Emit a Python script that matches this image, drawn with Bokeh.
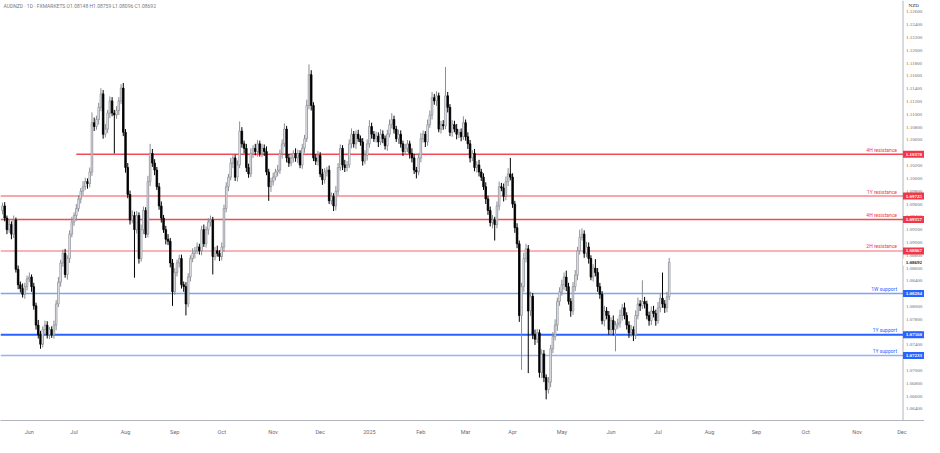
import pandas as pd
from bokeh.plotting import figure
from bokeh.models import ColumnDataSource, FixedTicker, Label, Range1d
from bokeh.embed import file_html
from bokeh.resources import INLINE

# ---------------- data ----------------
first_day = "2024-05-16"
first_open = 1.0950

closes = [
    1.0957, 1.0938, 1.0920, 1.0928, 1.0913, 1.0935, 1.0858, 1.0834, 1.0828, 1.0819,
    1.0831, 1.0843, 1.0846, 1.0831, 1.0801, 1.0771, 1.0756, 1.0741, 1.0764, 1.0771,
    1.0756, 1.0764, 1.0756, 1.0771, 1.0804, 1.0838, 1.0868, 1.0883, 1.0850, 1.0875,
    1.0913, 1.0932, 1.0942, 1.0953, 1.0968, 1.0980, 1.0987, 1.0995, 1.0992, 1.1010,
    1.1087, 1.1081, 1.1092, 1.1111, 1.1132, 1.1069, 1.1077, 1.1102, 1.1121, 1.1102,
    1.1099, 1.1106, 1.1121, 1.1141, 1.1072, 1.1017, 1.0975, 1.0935, 1.0942, 1.0920,
    1.0942, 1.0875, 1.0920, 1.0950, 1.0913, 1.0995, 1.1039, 1.1024, 1.1013, 1.0987,
    1.0957, 1.0938, 1.0920, 1.0905, 1.0902, 1.0868, 1.0823, 1.0853, 1.0868, 1.0875,
    1.0834, 1.0831, 1.0804, 1.0846, 1.0875, 1.0883, 1.0887, 1.0893, 1.0887, 1.0920,
    1.0898, 1.0920, 1.0932, 1.0935, 1.0878, 1.0887, 1.0883, 1.0878, 1.0893, 1.0953,
    1.0987, 1.1002, 1.1024, 1.1032, 1.1002, 1.1021, 1.1074, 1.1054, 1.1047, 1.1017,
    1.1007, 1.1039, 1.1047, 1.1042, 1.1054, 1.1039, 1.1047, 1.1042, 1.1010, 1.0987,
    1.0995, 1.1002, 1.1010, 1.1013, 1.1039, 1.1054, 1.1077, 1.1032, 1.1024, 1.1032,
    1.1039, 1.1032, 1.1039, 1.1021, 1.1047, 1.1062, 1.1114, 1.1162, 1.1114, 1.1032,
    1.1027, 1.1036, 1.1007, 1.0998, 1.1010, 1.1013, 1.0965, 1.0972, 1.0957, 1.0980,
    1.1017, 1.1047, 1.1021, 1.1017, 1.1021, 1.1054, 1.1069, 1.1054, 1.1069, 1.1062,
    1.1057, 1.1027, 1.1036, 1.1054, 1.1081, 1.1069, 1.1062, 1.1066, 1.1057, 1.1069,
    1.1062, 1.1051, 1.1069, 1.1084, 1.1092, 1.1077, 1.1062, 1.1069, 1.1054, 1.1042,
    1.1047, 1.1054, 1.1039, 1.1032, 1.1013, 1.1010, 1.1032, 1.1062, 1.1069, 1.1057,
    1.1084, 1.1099, 1.1126, 1.1121, 1.1129, 1.1077, 1.1084, 1.1082, 1.1129, 1.1111,
    1.1072, 1.1084, 1.1077, 1.1069, 1.1072, 1.1065, 1.1087, 1.1065, 1.1054, 1.1032,
    1.1039, 1.1017, 1.1021, 1.1010, 1.1002, 1.0987, 1.0968, 1.0950, 1.0931, 1.0935,
    1.0928, 1.0957, 1.0987, 1.0985, 1.0972, 1.0995, 1.1007, 1.1002, 1.0960, 1.0923,
    1.0898, 1.0786, 1.0831, 1.0875, 1.0890, 1.0793, 1.0816, 1.0756, 1.0749, 1.0759,
    1.0697, 1.0726, 1.0689, 1.0670, 1.0682, 1.0734, 1.0753, 1.0771, 1.0808, 1.0823,
    1.0834, 1.0846, 1.0831, 1.0808, 1.0793, 1.0831, 1.0849, 1.0887, 1.0908, 1.0913,
    1.0883, 1.0893, 1.0875, 1.0846, 1.0860, 1.0853, 1.0831, 1.0819, 1.0778, 1.0793,
    1.0786, 1.0764, 1.0778, 1.0764, 1.0771, 1.0774, 1.0786, 1.0798, 1.0786, 1.0771,
    1.0759, 1.0764, 1.0756, 1.0786, 1.0804, 1.0801, 1.0808, 1.0804, 1.0786, 1.0778,
    1.0793, 1.0789, 1.0778, 1.0798, 1.0813, 1.0804, 1.0798, 1.0815, 1.0869,
]

upper_wick_pips = [
    5, 6, 4, 8, 5, 7, 4, 6, 5, 8,
    6, 5, 7, 4, 6, 5, 8, 6, 5, 7,
    6, 4, 5, 7, 6, 8, 5, 6, 7, 5,
    6, 8, 5, 7, 6, 5, 9, 6, 5, 7,
    16, 8, 6, 7, 9, 6, 8, 5, 7, 6,
    5, 7, 6, 6, 8, 5, 7, 6, 8, 6,
    7, 5, 8, 6, 5, 9, 15, 7, 6, 5,
    6, 7, 5, 6, 8, 5, 6, 7, 5, 6,
    6, 5, 7, 6, 5, 8, 6, 7, 5, 6,
    8, 5, 6, 7, 5, 6, 8, 5, 7, 6,
    7, 5, 8, 6, 5, 7, 15, 6, 5, 7,
    6, 8, 5, 7, 6, 5, 7, 6, 8, 5,
    6, 7, 5, 8, 6, 7, 9, 5, 6, 7,
    5, 8, 6, 5, 7, 6, 9, 16, 7, 5,
    6, 7, 5, 8, 6, 5, 7, 6, 5, 8,
    7, 6, 5, 8, 6, 7, 9, 5, 6, 7,
    5, 6, 8, 7, 10, 6, 5, 7, 6, 8,
    6, 5, 7, 8, 10, 6, 5, 7, 6, 5,
    7, 6, 5, 8, 6, 5, 7, 9, 6, 5,
    8, 7, 9, 6, 7, 5, 6, 7, 45, 6,
    5, 7, 6, 8, 5, 6, 10, 5, 7, 6,
    5, 7, 6, 8, 5, 6, 7, 5, 6, 8,
    5, 7, 8, 6, 7, 8, 9, 25, 6, 5,
    7, 5, 6, 9, 8, 6, 7, 5, 8, 6,
    5, 7, 6, 5, 8, 6, 7, 9, 6, 7,
    8, 7, 10, 6, 5, 7, 8, 6, 12, 9,
    6, 8, 7, 5, 6, 14, 7, 6, 5, 8,
    6, 7, 5, 8, 6, 7, 9, 6, 8, 5,
    6, 7, 5, 8, 10, 6, 33, 7, 5, 6,
    7, 8, 6, 9, 7, 40, 6, 8, 7,
]

lower_wick_pips = [
    6, 5, 7, 5, 8, 6, 5, 7, 6, 5,
    7, 6, 5, 8, 6, 7, 6, 7, 5, 8,
    6, 7, 5, 6, 8, 5, 7, 6, 5, 8,
    7, 5, 6, 8, 5, 7, 6, 5, 8, 6,
    6, 7, 5, 8, 6, 7, 5, 6, 8, 5,
    60, 6, 7, 5, 6, 8, 6, 7, 5, 75,
    6, 8, 5, 7, 6, 5, 7, 6, 8, 5,
    6, 7, 5, 8, 6, 7, 22, 5, 6, 7,
    6, 8, 18, 5, 7, 6, 8, 5, 6, 7,
    5, 6, 8, 7, 28, 6, 5, 7, 6, 8,
    6, 7, 5, 8, 6, 7, 5, 6, 8, 7,
    6, 5, 7, 6, 8, 5, 6, 7, 5, 22,
    8, 6, 5, 7, 6, 8, 5, 7, 6, 5,
    7, 6, 8, 5, 6, 7, 5, 6, 8, 5,
    6, 7, 5, 8, 6, 7, 5, 6, 8, 7,
    6, 5, 8, 7, 6, 5, 7, 6, 8, 5,
    6, 7, 5, 8, 6, 7, 5, 6, 8, 5,
    7, 6, 8, 5, 6, 7, 5, 8, 6, 7,
    5, 6, 8, 7, 6, 10, 5, 7, 6, 8,
    6, 5, 7, 6, 8, 5, 7, 6, 5, 8,
    6, 7, 5, 8, 6, 7, 5, 6, 8, 7,
    5, 6, 8, 7, 6, 5, 8, 7, 6, 9,
    25, 6, 7, 5, 8, 6, 7, 5, 6, 8,
    7, 10, 85, 8, 6, 97, 8, 7, 9, 6,
    8, 9, 7, 15, 6, 8, 7, 6, 9, 7,
    6, 8, 7, 5, 9, 6, 7, 8, 6, 5,
    7, 6, 8, 5, 7, 6, 8, 7, 6, 9,
    6, 8, 7, 9, 34, 6, 7, 8, 6, 7,
    8, 6, 10, 7, 6, 8, 5, 7, 6, 8,
    7, 6, 8, 5, 7, 6, 8, 7, 5,
]

levels = [1.10378, 1.09725, 1.09357, 1.08867, 1.08204, 1.07560, 1.07233]
level_names = ["4H resistance", "1Y resistance", "4H resistance", "2H resistance",
               "1W support", "1Y support", "1Y support"]
level_start = ["2024-07-02", None, None, None, None, None, None]
level_colors = ["#f23645", "#f23645", "#f23645", "#f23645", "#2962ff", "#2962ff", "#2962ff"]
level_alpha = [0.9, 0.6, 0.9, 0.5, 0.6, 1.0, 0.5]
level_width = [1.5, 1.5, 1.5, 1.5, 1.5, 2, 1.5]

tick_months = ["2024-06", "2024-07", "2024-08", "2024-09", "2024-10", "2024-11", "2024-12",
               "2025-01", "2025-02", "2025-03", "2025-04", "2025-05", "2025-06", "2025-07",
               "2025-08", "2025-09", "2025-10", "2025-11", "2025-12"]
tick_labels = ["Jun", "Jul", "Aug", "Sep", "Oct", "Nov", "Dec", "2025", "Feb", "Mar", "Apr",
               "May", "Jun", "Jul", "Aug", "Sep", "Oct", "Nov", "Dec"]
price_ticks = [1.064, 1.066, 1.068, 1.070, 1.072, 1.074, 1.076, 1.078, 1.080, 1.082,
               1.084, 1.086, 1.088, 1.090, 1.092, 1.094, 1.096, 1.098, 1.100, 1.102, 1.104,
               1.106, 1.108, 1.110, 1.112, 1.114, 1.116, 1.118, 1.120, 1.122, 1.124, 1.126]
last_price = 1.08692
currency = "NZD"
header = "AUDNZD · 1D · FXMARKETS   O1.08148  H1.08759  L1.08096  C1.08692"

# ---------------- build ----------------
n = len(closes)
opens = [first_open] + closes[:-1]
highs = [max(o, c) + u / 10000 for o, c, u in zip(opens, closes, upper_wick_pips)]
lows = [min(o, c) - l / 10000 for o, c, l in zip(opens, closes, lower_wick_pips)]
all_days = pd.bdate_range(first_day, "2025-12-31")
idx = list(range(n))
up = [c >= o for o, c in zip(opens, closes)]

src = ColumnDataSource(dict(
    x=idx, h=highs, l=lows,
    top=[max(o, c) for o, c in zip(opens, closes)],
    bot=[min(o, c) for o, c in zip(opens, closes)],
    fill=["#ffffff" if u else "#000000" for u in up],
    line=["#8a8d96" if u else "#000000" for u in up],
))

FONT = "Roboto"
GREY = "#6a6d78"
x0, x1 = -0.88, 412.1        # full frame (chart + price scale strip)
scale_edge = 402.5           # where the price scale strip starts
y0, y1 = 1.0622, 1.12778

p = figure(width=924, height=437, output_backend="svg", toolbar_location=None,
           x_range=Range1d(x0, x1), y_range=Range1d(y0, y1), y_axis_location=None,
           min_border_left=0, min_border_top=0, min_border_right=0, min_border_bottom=0)
p.outline_line_color = None
p.xgrid.visible = False
p.ygrid.visible = False

# price scale strip border
p.segment(x0=[scale_edge], y0=[y0], x1=[scale_edge], y1=[y1], line_color="#b2b5be", line_width=1)

# support / resistance lines, one renderer each
for lv, st, lc, la, lw in zip(levels, level_start, level_colors, level_alpha, level_width):
    xs = float(x0) if st is None else float(all_days.get_loc(pd.Timestamp(st)))
    p.segment(x0=[xs], y0=[lv], x1=[scale_edge], y1=[lv], line_color=lc, line_alpha=la,
              line_width=lw)

# candles
p.segment("x", "h", "x", "l", source=src, line_color="line", line_width=1)
p.vbar(x="x", width=0.7, top="top", bottom="bot", source=src,
       fill_color="fill", line_color="line", line_width=0.8)

# price scale labels
p.text(x=[scale_edge] * len(price_ticks), y=price_ticks, text=["%.5f" % t for t in price_ticks],
       x_offset=3, text_baseline="middle", text_align="left", text_font=FONT,
       text_font_size="5px", text_color=GREY)
strip_mid = (scale_edge + x1) / 2
for lv, col in zip(levels, level_colors):
    p.rect(x=[strip_mid], y=[lv], width=x1 - scale_edge, height=7, height_units="screen",
           fill_color=col, line_color=None)
p.text(x=[strip_mid] * len(levels), y=levels, text=["%.5f" % v for v in levels],
       text_baseline="middle", text_align="center", text_font=FONT, text_font_size="5px",
       text_font_style="bold", text_color="#ffffff")
p.rect(x=[strip_mid], y=[last_price], width=x1 - scale_edge, height=7, height_units="screen",
       fill_color="#ffffff", line_color=None)
p.text(x=[strip_mid], y=[last_price], text=["%.5f" % last_price], text_baseline="middle",
       text_align="center", text_font=FONT, text_font_size="5px", text_font_style="bold",
       text_color="#131722")
p.text(x=[strip_mid], y=[y1], y_offset=2, text=[currency], text_baseline="top",
       text_align="center", text_font=FONT, text_font_size="5px", text_color="#131722")

# level captions
for lv, nm, col in zip(levels, level_names, level_colors):
    p.add_layout(Label(x=scale_edge, y=lv, x_offset=-6, y_offset=1.5, text=nm, text_align="right",
                       text_baseline="bottom", text_color=col, text_font_size="5px",
                       text_font=FONT))

p.add_layout(Label(x=x0, y=y1, x_offset=3, y_offset=-2, text=header, text_align="left",
                   text_baseline="top", text_color="#787b86", text_font_size="5px", text_font=FONT))

# time axis
tick_pos = [int(all_days.get_loc(all_days[all_days.strftime("%Y-%m") == m][0])) for m in tick_months]
p.xaxis.ticker = FixedTicker(ticks=tick_pos)
p.xaxis.major_label_overrides = {t: lab for t, lab in zip(tick_pos, tick_labels)}
p.xaxis.major_label_text_font_size = "5.5px"
p.xaxis.major_label_text_color = GREY
p.xaxis.major_label_text_font = FONT
p.xaxis.major_tick_line_color = None
p.xaxis.minor_tick_line_color = None
p.xaxis.axis_line_color = "#b2b5be"
p.xaxis.major_label_standoff = 2

open("out.html", "w").write(file_html(p, INLINE))
